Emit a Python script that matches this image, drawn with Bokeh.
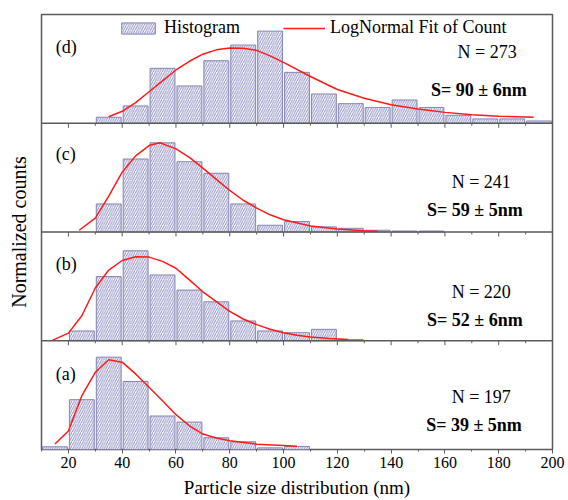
from bokeh.plotting import figure
from bokeh.models import (Range1d, FixedTicker, Label, Span, Legend, LegendItem,
                          ColumnDataSource)
from bokeh.embed import file_html
from bokeh.resources import INLINE

# ---------------- data (normalized counts per panel) ----------------
bins_a = [10, 20, 30, 40, 50, 60, 70, 80, 90, 100]
hist_a = [0.025, 0.458, 0.849, 0.625, 0.308, 0.252, 0.108, 0.071, 0.015, 0.028]
fit_x_a = [15, 20, 25, 30, 35, 40, 45, 50, 55, 60, 65, 70, 75, 80, 90, 100, 105]
fit_y_a = [0.05, 0.17, 0.495, 0.71, 0.825, 0.803, 0.695, 0.572, 0.449, 0.32,
           0.218, 0.142, 0.105, 0.08, 0.049, 0.037, 0.031]

bins_b = [20, 30, 40, 50, 60, 70, 80, 90, 100, 110, 120]
hist_b = [0.090, 0.590, 0.827, 0.605, 0.466, 0.358, 0.182, 0.090, 0.074, 0.105, 0.012]
fit_x_b = [14, 20, 25, 30, 35, 40, 45, 50, 55, 60, 65, 70, 75, 80, 85, 90, 95,
           100, 105, 110, 117, 124]
fit_y_b = [0.003, 0.07, 0.23, 0.485, 0.65, 0.738, 0.772, 0.769, 0.73, 0.667,
           0.56, 0.45, 0.36, 0.27, 0.20, 0.148, 0.105, 0.074, 0.05, 0.034,
           0.02, 0.012]

bins_c = [30, 40, 50, 60, 70, 80, 90, 100, 110, 120, 130, 140, 150]
hist_c = [0.258, 0.671, 0.820, 0.646, 0.540, 0.258, 0.062, 0.096, 0.047, 0.034,
          0.016, 0.009, 0.009]
fit_x_c = [24, 30, 35, 40, 45, 50, 54, 60, 65, 70, 75, 80, 85, 90, 95, 100,
           110, 120, 130, 135]
fit_y_c = [0.016, 0.127, 0.33, 0.55, 0.70, 0.795, 0.82, 0.764, 0.686, 0.587,
           0.484, 0.382, 0.292, 0.22, 0.158, 0.112, 0.056, 0.028, 0.012, 0.006]

bins_d = [30, 40, 50, 60, 70, 80, 90, 100, 110, 120, 130, 140, 150, 160, 170, 180, 190]
hist_d = [0.055, 0.159, 0.505, 0.343, 0.575, 0.719, 0.847, 0.468, 0.269, 0.180,
          0.144, 0.214, 0.144, 0.073, 0.040, 0.040, 0.021]
fit_x_d = [35, 40, 45, 50, 55, 60, 65, 70, 75, 80, 85, 90, 95, 100, 110, 120,
           130, 140, 150, 160, 170, 180, 190, 193]
fit_y_d = [0.06, 0.11, 0.19, 0.29, 0.39, 0.49, 0.57, 0.635, 0.675, 0.693, 0.69,
           0.67, 0.62, 0.56, 0.43, 0.31, 0.23, 0.17, 0.13, 0.10, 0.078, 0.064,
           0.057, 0.055]

panel_tags = ["(a)", "(b)", "(c)", "(d)"]
n_texts = ["N = 197", "N = 220", "N = 241", "N = 273"]
s_texts = ["S= 39 \u00b1 5nm", "S= 52 \u00b1 6nm", "S= 59 \u00b1 5nm", "S= 90 \u00b1 6nm"]

x_major = [20, 40, 60, 80, 100, 120, 140, 160, 180, 200]
x_minor = [10, 30, 50, 70, 90, 110, 130, 150, 170, 190]

x_label = "Particle size distribution (nm)"
y_label = "Normalized counts"

# ---------------- styling / layout ----------------
FONT = "Liberation Serif, Times New Roman, serif"
FRAME_H = 435
PANEL_PX = FRAME_H / 4.0
BAR_FILL = "#f8f8fc"
HATCH = "#48489a"
BAR_LINE = "#8484b4"
RED = "#ff1a1a"
FRAME_COL = "#5a5a5a"

# positions (pixels from top of each panel) of the texts
tag_dy = [33, 31.6, 30.3, 32.4]
n_dy = [56.4, 60.0, 58.7, 37.4]
s_dy = [84.0, 87.6, 86.3, 75.7]
n_x = [184.5, 184.5, 184.5, 186.7]
s_x = [188.6, 188.9, 188.9, 190.4]
tag_x = 15.3

p = figure(frame_width=511, frame_height=FRAME_H, output_backend="svg",
           toolbar_location=None, x_range=Range1d(10, 200), y_range=Range1d(0, 4),
           min_border_left=41, min_border_top=14, min_border_right=15,
           min_border_bottom=0)
p.background_fill_color = "white"
p.border_fill_color = "white"
p.xgrid.visible = False
p.ygrid.visible = False
p.outline_line_color = FRAME_COL
p.outline_line_width = 1.5

panels = [(bins_a, hist_a, fit_x_a, fit_y_a),
          (bins_b, hist_b, fit_x_b, fit_y_b),
          (bins_c, hist_c, fit_x_c, fit_y_c),
          (bins_d, hist_d, fit_x_d, fit_y_d)]

bar_r = None
line_r = None
for i, (bins, hist, fx, fy) in enumerate(panels):
    src = ColumnDataSource(dict(x=[b + 5 for b in bins],
                                top=[i + h for h in hist],
                                bottom=[i] * len(bins)))
    bar_r = p.vbar(x="x", top="top", bottom="bottom", width=9.25, source=src,
                   fill_color=BAR_FILL, line_color=BAR_LINE, line_width=1,
                   hatch_pattern="/", hatch_color=HATCH, hatch_scale=4.5,
                   hatch_weight=0.6)
    line_r = p.line([v for v in fx], [i + v for v in fy], line_color=RED,
                    line_width=1.5)

    top_y = i + 1
    p.add_layout(Label(x=tag_x, y=top_y - tag_dy[i] / PANEL_PX, text=panel_tags[i],
                       text_font=FONT, text_font_size="18px", text_baseline="middle",
                       text_align="left", text_color="black"))
    p.add_layout(Label(x=n_x[i], y=top_y - n_dy[i] / PANEL_PX, text=n_texts[i],
                       text_font=FONT, text_font_size="18px", text_baseline="middle",
                       text_align="right", text_color="black"))
    p.add_layout(Label(x=s_x[i], y=top_y - s_dy[i] / PANEL_PX, text=s_texts[i],
                       text_font=FONT, text_font_size="18px", text_font_style="bold",
                       text_baseline="middle", text_align="right", text_color="black"))

# panel separators with their downward ticks
for sep in [1, 2, 3]:
    p.add_layout(Span(location=sep, dimension="width", line_color=FRAME_COL,
                      line_width=1.5))
    p.segment(x0=x_major, x1=x_major, y0=[sep] * len(x_major),
              y1=[sep - 4.5 / PANEL_PX] * len(x_major), line_color=FRAME_COL,
              line_width=1)
    p.segment(x0=x_minor, x1=x_minor, y0=[sep] * len(x_minor),
              y1=[sep - 2.5 / PANEL_PX] * len(x_minor), line_color=FRAME_COL,
              line_width=1)

# x axis
xa = p.xaxis[0]
xa.ticker = FixedTicker(ticks=x_major, minor_ticks=x_minor)
xa.axis_line_color = None
xa.major_tick_in = 0
xa.major_tick_out = 4
xa.minor_tick_in = 0
xa.minor_tick_out = 2
xa.major_tick_line_color = FRAME_COL
xa.minor_tick_line_color = FRAME_COL
xa.major_label_text_font = FONT
xa.major_label_text_font_size = "16px"
xa.major_label_text_color = "black"
xa.major_label_standoff = 3
xa.axis_label = x_label
xa.axis_label_text_font = FONT
xa.axis_label_text_font_size = "19px"
xa.axis_label_text_font_style = "normal"
xa.axis_label_text_color = "black"
xa.axis_label_standoff = 6

# y axis (label only)
ya = p.yaxis[0]
ya.ticker = FixedTicker(ticks=[])
ya.axis_line_color = None
ya.major_tick_out = 0
ya.minor_tick_out = 0
ya.axis_label = y_label
ya.axis_label_text_font = FONT
ya.axis_label_text_font_size = "20px"
ya.axis_label_text_font_style = "normal"
ya.axis_label_text_color = "black"
ya.axis_label_standoff = 12

legend = Legend(items=[LegendItem(label="Histogram", renderers=[bar_r]),
                       LegendItem(label="LogNormal Fit of Count", renderers=[line_r])],
                orientation="horizontal", location=(76, 411),
                label_text_font=FONT, label_text_font_size="18px",
                label_text_color="black", glyph_width=42, glyph_height=14,
                label_height=14, label_standoff=5, spacing=43, padding=0,
                margin=0, border_line_alpha=0, background_fill_alpha=0)
p.add_layout(legend, "center")

open("out.html", "w").write(file_html(p, INLINE))
